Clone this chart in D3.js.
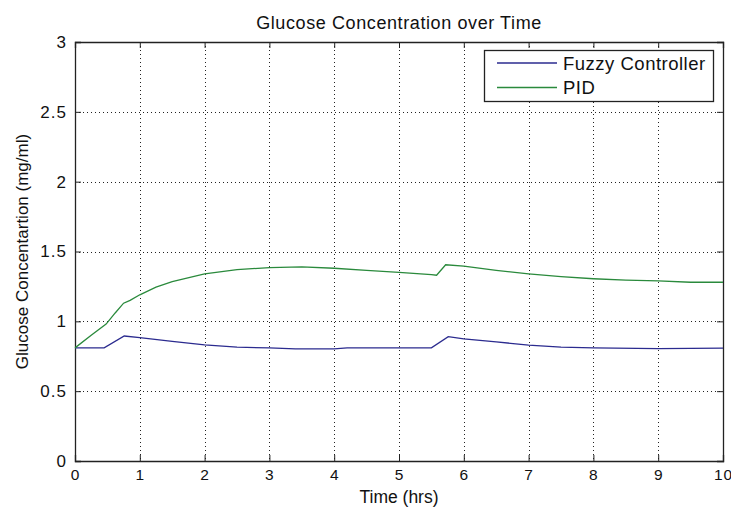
<!DOCTYPE html>
<html>
<head>
<meta charset="utf-8">
<script src="https://cdn.jsdelivr.net/npm/d3@7"></script>
<style>
  html, body { margin: 0; padding: 0; background: #fff; }
  svg text { font-family: "Liberation Sans", Arial, sans-serif; fill: #111; }
  .grid line { stroke: #222; stroke-width: 1; stroke-dasharray: 1,3; }
  .ax path, .ax line { stroke: #222; }
</style>
</head>
<body>
<svg id="chart" width="731" height="507"></svg>
<script>
/* Glucose concentration: fuzzy controller vs PID (MATLAB style plot) */
var xTicks = [0, 1, 2, 3, 4, 5, 6, 7, 8, 9, 10];
var yTicks = [0, 0.5, 1, 1.5, 2, 2.5, 3];
var yTickLabels = ['0', '0.5', '1', '1.5', '2', '2.5', '3'];

var fuzzyT = [0, 0.45, 0.76, 1.0, 1.5, 2.0, 2.5, 3.0, 3.4, 4.0, 4.2, 5.5, 5.76, 6.0, 6.5, 7.0, 7.5, 8.0, 9.0, 10];
var fuzzyV = [0.81, 0.81, 0.895, 0.883, 0.857, 0.832, 0.815, 0.81, 0.803, 0.803, 0.81, 0.81, 0.89, 0.875, 0.853, 0.83, 0.815, 0.81, 0.805, 0.808];

var pidT = [0, 0.25, 0.48, 0.62, 0.75, 0.85, 1.0, 1.25, 1.5, 2.0, 2.5, 3.0, 3.5, 4.0, 4.5, 5.0, 5.5, 5.58, 5.72, 6.0, 6.5, 7.0, 7.5, 8.0, 8.5, 9.0, 9.5, 10];
var pidV = [0.81, 0.9, 0.98, 1.06, 1.13, 1.15, 1.19, 1.245, 1.285, 1.34, 1.37, 1.385, 1.39, 1.38, 1.365, 1.35, 1.335, 1.33, 1.405, 1.395, 1.365, 1.34, 1.32, 1.305, 1.295, 1.29, 1.28, 1.28];

var seriesNames = ['Fuzzy Controller', 'PID'];
var seriesColors = ['#2b2b8f', '#2a8a3c'];

(function () {
  var L = 75, R = 723, T = 42, B = 461;
  var svg = d3.select('#chart');
  var x = d3.scaleLinear().domain([0, 10]).range([L, R]);
  var y = d3.scaleLinear().domain([0, 3]).range([B, T]);

  // grid (dotted)
  var g = svg.append('g').attr('class', 'grid');
  g.selectAll('line.gx').data(xTicks.slice(1, -1)).enter().append('line')
    .attr('x1', function (d) { return Math.round(x(d)) + 0.5; }).attr('x2', function (d) { return Math.round(x(d)) + 0.5; })
    .attr('y1', T).attr('y2', B);
  g.selectAll('line.gy').data(yTicks.slice(1, -1)).enter().append('line')
    .attr('y1', function (d) { return Math.round(y(d)) + 0.5; }).attr('y2', function (d) { return Math.round(y(d)) + 0.5; })
    .attr('x1', L).attr('x2', R);

  // axes with inward ticks on all four sides
  function ax(gen, tr) {
    return svg.append('g').attr('class', 'ax').attr('transform', tr).call(gen);
  }
  var xb = ax(d3.axisBottom(x).tickValues(xTicks).tickSize(-6).tickPadding(8).tickFormat(d3.format('d')), 'translate(0,' + B + ')');
  var yl = ax(d3.axisLeft(y).tickValues(yTicks).tickSize(-6).tickPadding(8).tickFormat(function (d, i) { return yTickLabels[i]; }), 'translate(' + L + ',0)');
  ax(d3.axisTop(x).tickValues(xTicks).tickSize(-6).tickFormat(''), 'translate(0,' + T + ')');
  ax(d3.axisRight(y).tickValues(yTicks).tickSize(-6).tickFormat(''), 'translate(' + R + ',0)');
  svg.selectAll('.ax path').attr('stroke-width', 1.3);
  xb.selectAll('text').attr('font-size', 15.5).style('letter-spacing', '1px');
  yl.selectAll('text').attr('font-size', 17).style('letter-spacing', '1px');

  // series
  var line = d3.line().x(function (d) { return x(d[0]); }).y(function (d) { return y(d[1]); });
  var data = [d3.zip(fuzzyT, fuzzyV), d3.zip(pidT, pidV)];
  svg.selectAll('path.series').data(data).enter().append('path').attr('class', 'series')
    .attr('d', line).attr('fill', 'none').attr('stroke-width', 1.3)
    .attr('stroke', function (d, i) { return seriesColors[i]; });

  // titles
  svg.append('text').attr('x', (L + R) / 2).attr('y', 29).attr('text-anchor', 'middle')
    .attr('font-size', 18).style('letter-spacing', '0.6px').text('Glucose Concentration over Time');
  svg.append('text').attr('x', (L + R) / 2).attr('y', 503).attr('text-anchor', 'middle')
    .attr('font-size', 17.5).text('Time (hrs)');
  svg.append('text').attr('transform', 'translate(28,' + (T + B) / 2 + ') rotate(-90)').attr('text-anchor', 'middle')
    .attr('font-size', 17).text('Glucose Concentartion (mg/ml)');

  // legend
  var lg = svg.append('g');
  lg.append('rect').attr('x', 484.5).attr('y', 50.5).attr('width', 229).attr('height', 51)
    .attr('fill', '#fff').attr('stroke', '#222').attr('stroke-width', 1.3);
  seriesNames.forEach(function (n, i) {
    var yy = 63 + i * 24.5;
    lg.append('line').attr('x1', 497).attr('x2', 557).attr('y1', yy).attr('y2', yy)
      .attr('stroke', seriesColors[i]).attr('stroke-width', 1.3);
    lg.append('text').attr('x', 563).attr('y', yy + 6.5).attr('font-size', 18.5)
      .style('letter-spacing', '0.5px').text(n);
  });
})();
</script>
</body>
</html>
